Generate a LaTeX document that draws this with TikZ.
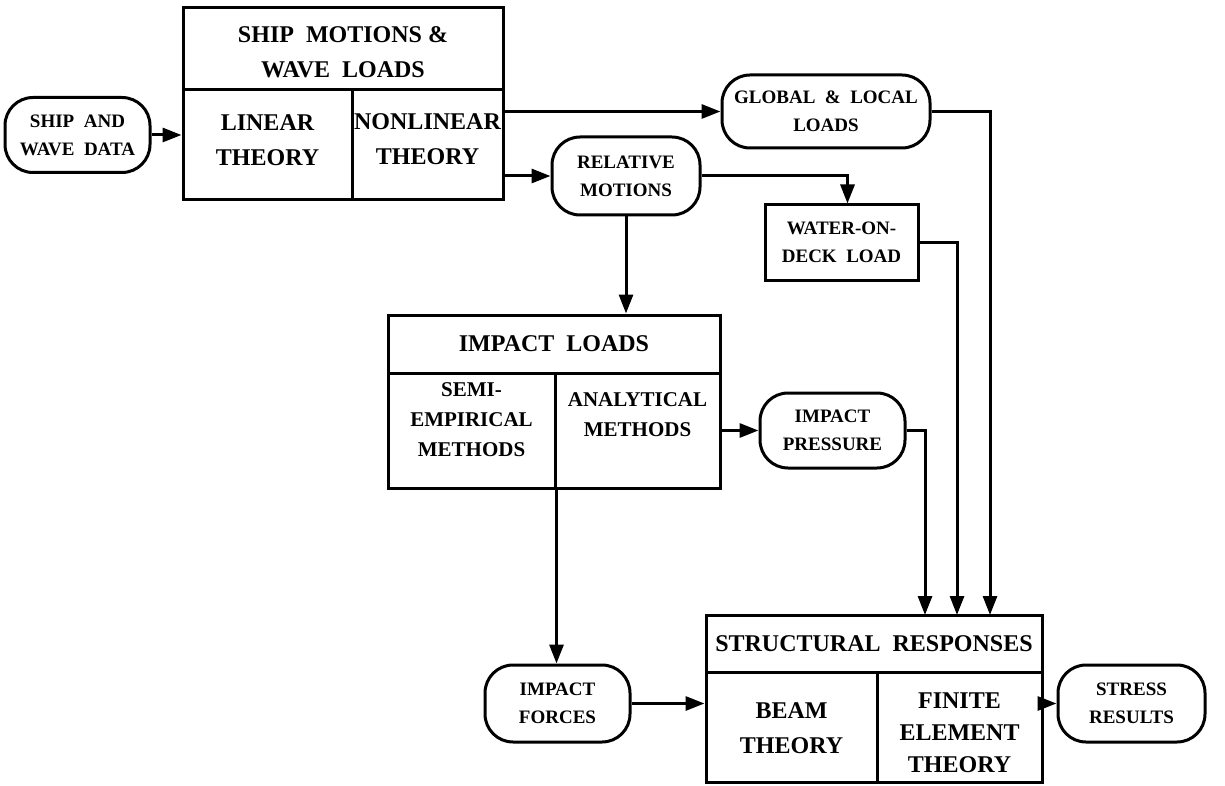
\documentclass[tikz,border=0pt]{standalone}
\usepackage{fontspec}
\setmainfont{Liberation Serif}
\usetikzlibrary{arrows.meta,calc}
\begin{document}
\begin{tikzpicture}[x=1pt,y=-1pt,
  every node/.style={font=\bfseries, align=center, inner sep=0pt},
  cell/.style={draw, line width=3pt, minimum width=#1},
  rbox/.style={draw, line width=3pt, rounded corners=28pt},
  arr/.style={line width=3pt, -{Triangle[length=19pt,width=14pt]}},
  big/.style={font=\bfseries\fontsize{24}{35}\selectfont},
  mid/.style={font=\bfseries\fontsize{21}{30}\selectfont},
  sml/.style={font=\bfseries\fontsize{19}{28}\selectfont}]
\useasboundingbox (0,0) rectangle (1225,786);
% ship motions box
\node[cell=320pt, minimum height=82pt] (shipH) at (343,49) {};
\node[big] (shipHt) at (343,52) {SHIP\ \ MOTIONS\ \&\\WAVE\ \ LOADS};
\node[cell=169pt, minimum height=110pt] (shipL) at (267.5,145) {};
\node[big] (shipLt) at (267.5,140) {LINEAR\\THEORY};
\node[cell=151pt, minimum height=110pt] (shipR) at (427.5,145) {};
\node[big] (shipRt) at (427.5,139) {NONLINEAR\\THEORY};
% input
\node[rbox, minimum width=145pt, minimum height=75pt, sml] (data) at (77.5,135) {SHIP\ \ AND\\WAVE\ \ DATA};
% global
\node[rbox, minimum width=208pt, minimum height=73pt, sml] (glob) at (826,111.5) {GLOBAL\ \ \&\ \ LOCAL\\LOADS};
% relative motions
\node[rbox, minimum width=148pt, minimum height=78pt, sml] (rel) at (626,176) {RELATIVE\\MOTIONS};
% water on deck
\node[cell=153pt, minimum height=75pt, sml] (water) at (841.5,242.5) {WATER-ON-\\DECK\ \ LOAD};
% impact loads
\node[cell=332pt, minimum height=58pt, big] (impH) at (554,344) {IMPACT\ \ LOADS};
\node[cell=167pt, minimum height=115pt] (impL) at (471.5,430.5) {};
\node[mid] (impLt) at (471.5,420) {SEMI-\\EMPIRICAL\\METHODS};
\node[cell=165pt, minimum height=115pt] (impR) at (637.5,430.5) {};
\node[mid] (impRt) at (637.5,415) {ANALYTICAL\\METHODS};
% impact pressure
\node[rbox, minimum width=145pt, minimum height=75pt, sml] (press) at (832.5,430.5) {IMPACT\\PRESSURE};
% impact forces
\node[rbox, minimum width=145pt, minimum height=77pt, sml] (forces) at (557.5,703.5) {IMPACT\\FORCES};
% structural responses
\node[cell=336pt, minimum height=57pt, big] (srH) at (874,643.5) {STRUCTURAL\ \ RESPONSES};
\node[cell=171pt, minimum height=110pt] (srL) at (791.5,727) {};
\node[big] (srLt) at (791.5,728) {BEAM\\THEORY};
\node[cell=165pt, minimum height=110pt] (srR) at (959.5,727) {};
\node[font=\bfseries\fontsize{24}{32}\selectfont] (srRt) at (959.5,733) {FINITE\\ELEMENT\\THEORY};
% stress results
\node[rbox, minimum width=147pt, minimum height=77pt, sml] (stress) at (1131.5,703.5) {STRESS\\RESULTS};
% entry points on structural responses
\coordinate (in1) at (925,615);
\coordinate (in2) at (957,615);
\coordinate (in3) at (990,615);
% connectors
\draw[arr] (data.east) -- (data.east -| shipL.west);
\draw[arr] (glob.west -| shipR.east) -- (glob.west);
\draw[arr] (rel.west -| shipR.east) -- (rel.west);
\draw[arr] (rel.east) -| ($(water.north)+(6,0)$);
\draw[arr] (water.east) -| (in2);
\draw[arr] (glob.east) -| (in3);
\draw[arr] (press.east) -| (in1);
\draw[arr] (rel.south) -- (rel.south |- impH.north);
\draw[arr] (press.west -| impR.east) -- (press.west);
\draw[arr] (impL.south east) -- (impL.south east |- forces.north);
\draw[arr] (forces.east) -- (forces.east -| srL.west);
\draw[arr] (stress.west -| srR.east) -- (stress.west);
\end{tikzpicture}
\end{document}
